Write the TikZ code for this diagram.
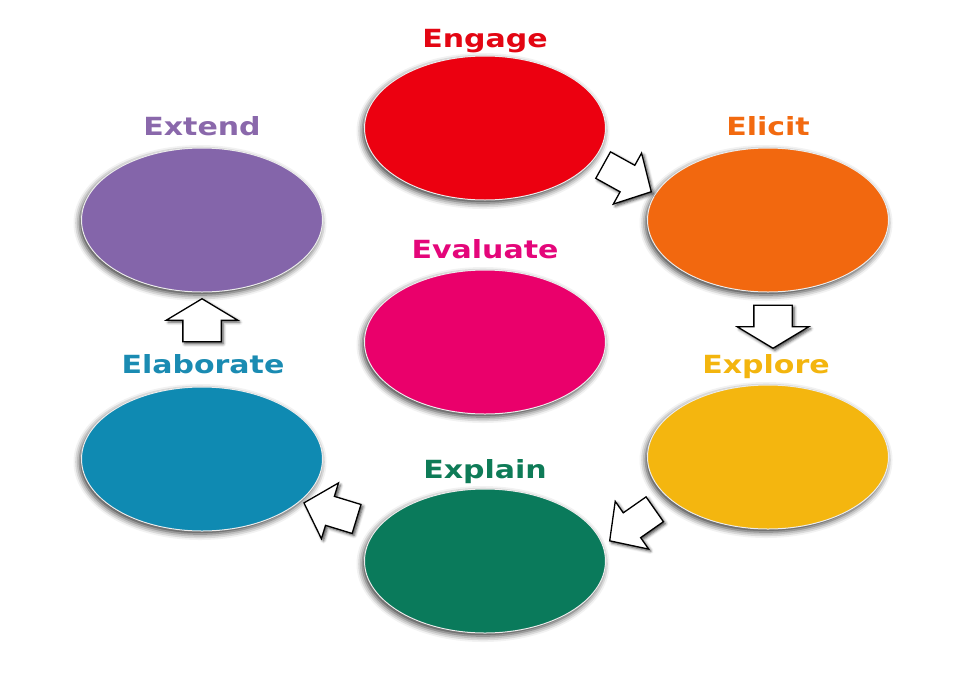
\documentclass[tikz,border=0pt]{standalone}
\usepackage{fontspec}
\setmainfont{DejaVu Sans}[FakeStretch=1.2]
\usetikzlibrary{shapes.geometric,shapes.arrows,shadows.blur}
\definecolor{cEngage}{HTML}{EC0010}
\definecolor{cElicit}{HTML}{F2680F}
\definecolor{cExplore}{HTML}{F4B60F}
\definecolor{cExplain}{HTML}{0A7A5B}
\definecolor{cElaborate}{HTML}{0F8AB2}
\definecolor{cExtend}{HTML}{8465AA}
\definecolor{cEvaluate}{HTML}{EA006B}
\definecolor{lEngage}{HTML}{E30613}
\definecolor{lElicit}{HTML}{F26A10}
\definecolor{lExplore}{HTML}{F3B50E}
\definecolor{lExplain}{HTML}{0E7B57}
\definecolor{lElaborate}{HTML}{1A8BB2}
\definecolor{lExtend}{HTML}{8A68AB}
\definecolor{lEvaluate}{HTML}{E4067A}
\tikzset{
  phase/.style={ellipse, minimum width=241pt, minimum height=144pt, inner sep=0pt,
    draw=black!8, line width=1pt, fill=#1,
    blur shadow={shadow xshift=-2pt, shadow yshift=-3pt, shadow blur radius=6pt, shadow opacity=80}},
  lbl/.style={anchor=base, text=#1, font=\fontsize{25}{25}\bfseries},
  blockarr/.style={single arrow, draw=black, line width=1.3pt, fill=white, inner xsep=0pt,
    blur shadow={shadow xshift=2pt, shadow yshift=-2pt, shadow blur radius=3pt, shadow opacity=75}},
  vblock/.style={blockarr, minimum height=43pt, inner ysep=18.5pt, single arrow head extend=16.5pt, single arrow tip angle=118},
  dblock/.style={blockarr, minimum height=55pt, inner ysep=14.5pt, single arrow head extend=14pt, single arrow tip angle=94}
}
\begin{document}
\begin{tikzpicture}[x=1pt,y=-1pt]
\useasboundingbox (0,0) rectangle (960,696);
% ellipses
\node[phase=cEngage]    (engage)    at (485,128) {};
\node[phase=cElicit]    (elicit)    at (768,220) {};
\node[phase=cExplore]   (explore)   at (768,457) {};
\node[phase=cExplain]   (explain)   at (485,561) {};
\node[phase=cElaborate] (elaborate) at (202,459) {};
\node[phase=cExtend]    (extend)    at (202,220) {};
\node[phase=cEvaluate]  (evaluate)  at (485,342) {};
% labels
\node[lbl=lEngage]    (tEngage)    at (485,47)  {Engage};
\node[lbl=lElicit]    (tElicit)    at (768,135) {Elicit};
\node[lbl=lExplore]   (tExplore)   at (766,373) {Explore};
\node[lbl=lExplain]   (tExplain)   at (485,478) {Explain};
\node[lbl=lElaborate] (tElaborate) at (203,373) {Elaborate};
\node[lbl=lExtend]    (tExtend)    at (202,135) {Extend};
\node[lbl=lEvaluate]  (tEvaluate)  at (485,258) {Evaluate};
% block arrows
\node[dblock, rotate=-29]  (a1) at (621,175) {};
\node[vblock, rotate=-90]  (a2) at (773,321) {};
\node[dblock, rotate=215]  (a3) at (638,521) {};
\node[dblock, rotate=163]  (a4) at (337,513) {};
\node[vblock, rotate=90]   (a5) at (202,326) {};
\end{tikzpicture}
\end{document}
